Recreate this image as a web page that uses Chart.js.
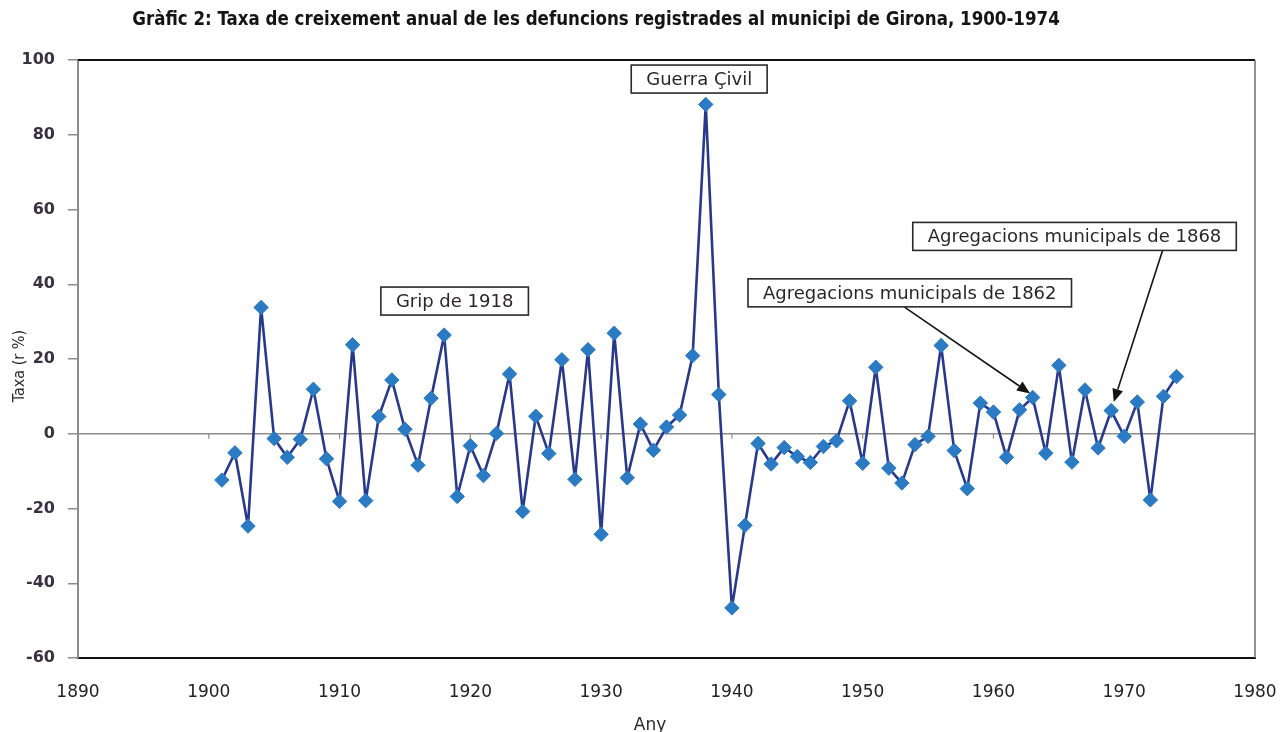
<!DOCTYPE html>
<html><head><meta charset="utf-8">
<script src="https://cdn.jsdelivr.net/npm/chart.js@4.4.1/dist/chart.umd.min.js"></script>
<style>html,body{margin:0;padding:0;background:#fff;overflow:hidden;}</style>
</head><body>
<canvas id="c" width="1282" height="732"></canvas>
<script>
const titleText = "Gràfic 2: Taxa de creixement anual de les defuncions registrades al municipi de Girona, 1900-1974";
const yTitle = "Taxa (r %)";
const xTitle = "Any";
const years = [1901,1902,1903,1904,1905,1906,1907,1908,1909,1910,
  1911,1912,1913,1914,1915,1916,1917,1918,1919,1920,
  1921,1922,1923,1924,1925,1926,1927,1928,1929,1930,
  1931,1932,1933,1934,1935,1936,1937,1938,1939,1940,
  1941,1942,1943,1944,1945,1946,1947,1948,1949,1950,
  1951,1952,1953,1954,1955,1956,1957,1958,1959,1960,
  1961,1962,1963,1964,1965,1966,1967,1968,1969,1970,
  1971,1972,1973,1974];
const rates = [-12.4,-5.1,-24.7,33.8,-1.3,-6.3,-1.5,11.9,-6.7,-18.1,
  23.8,-17.9,4.6,14.4,1.2,-8.4,9.5,26.4,-16.8,-3.2,
  -11.2,0.1,16.0,-20.8,4.7,-5.3,19.8,-12.2,22.5,-26.9,
  26.9,-11.8,2.6,-4.4,1.8,5.0,20.9,88.1,10.5,-46.6,
  -24.5,-2.6,-8.1,-3.7,-6.1,-7.7,-3.4,-1.9,8.8,-7.9,
  17.8,-9.2,-13.2,-2.9,-0.7,23.6,-4.5,-14.7,8.2,5.8,
  -6.3,6.4,9.7,-5.2,18.3,-7.6,11.7,-3.8,6.2,-0.7,
  8.5,-17.7,10.0,15.3];
const xTicks = [1890,1900,1910,1920,1930,1940,1950,1960,1970,1980];
const yTicks = [-60,-40,-20,0,20,40,60,80,100];
const notes = [
  {text:"Grip de 1918", x:1918.8, y:35.5},
  {text:"Guerra Çivil", x:1937.5, y:94.9},
  {text:"Agregacions municipals de 1862", x:1953.6, y:37.7},
  {text:"Agregacions municipals de 1868", x:1966.2, y:52.8}
];
const arrows = [
  {fromX:1953.2, fromY:33.9, toX:1962.8, toY:10.8},
  {fromX:1972.95, fromY:49.2, toX:1969.2, toY:8.5}
];

const deco = {
  id:'deco',
  beforeDraw(chart){
    const c = chart.ctx; c.save(); c.fillStyle='#fff'; c.fillRect(0,0,chart.width,chart.height); c.restore();
  },
  beforeDatasetsDraw(chart){
    const {ctx, chartArea:a, scales:{x,y}} = chart;
    const y0 = y.getPixelForValue(0);
    ctx.save();
    ctx.strokeStyle='#8c8c8c'; ctx.lineWidth=1.2;
    xTicks.forEach(v=>{
      const px = x.getPixelForValue(v);
      if (px > a.left+2 && px < a.right-2){
        ctx.beginPath(); ctx.moveTo(px, y0); ctx.lineTo(px, y0+5); ctx.stroke();
      }
    });
    ctx.strokeStyle='#111'; ctx.lineWidth=2;
    ctx.beginPath(); ctx.moveTo(a.left, a.top); ctx.lineTo(a.right, a.top); ctx.stroke();
    ctx.strokeStyle='#6e6e6e'; ctx.lineWidth=1.5;
    ctx.beginPath(); ctx.moveTo(a.right, a.top); ctx.lineTo(a.right, a.bottom); ctx.stroke();
    ctx.restore();
  },
  afterDatasetsDraw(chart){
    const {ctx, scales:{x,y}} = chart;
    ctx.save();
    arrows.forEach(ar=>{
      const x1=x.getPixelForValue(ar.fromX), y1=y.getPixelForValue(ar.fromY);
      const x2=x.getPixelForValue(ar.toX), y2=y.getPixelForValue(ar.toY);
      const ang=Math.atan2(y2-y1,x2-x1), len=13, hw=5.5;
      const bx=x2-Math.cos(ang)*len, by=y2-Math.sin(ang)*len;
      ctx.strokeStyle='#151515'; ctx.lineWidth=1.6;
      ctx.beginPath(); ctx.moveTo(x1,y1); ctx.lineTo(bx,by); ctx.stroke();
      ctx.fillStyle='#151515';
      ctx.beginPath(); ctx.moveTo(x2,y2);
      ctx.lineTo(bx+Math.sin(ang)*hw, by-Math.cos(ang)*hw);
      ctx.lineTo(bx-Math.sin(ang)*hw, by+Math.cos(ang)*hw);
      ctx.closePath(); ctx.fill();
    });
    ctx.font='18px "DejaVu Sans", sans-serif';
    notes.forEach(n=>{
      const cx=x.getPixelForValue(n.x), cy=y.getPixelForValue(n.y);
      const w=ctx.measureText(n.text).width+30, h=28;
      ctx.fillStyle='#fff'; ctx.fillRect(cx-w/2, cy-h/2, w, h);
      ctx.strokeStyle='#2a2a2a'; ctx.lineWidth=1.6; ctx.strokeRect(cx-w/2, cy-h/2, w, h);
      ctx.fillStyle='#2b2628'; ctx.textAlign='center'; ctx.textBaseline='middle';
      ctx.fillText(n.text, cx, cy+1);
    });
    ctx.restore();
  },
  afterDraw(chart){
    const ctx = chart.ctx;
    ctx.save();
    let fs = 17;
    ctx.font = 'bold '+fs+'px "Liberation Sans Narrow", "DejaVu Sans Condensed", sans-serif';
    const tw = ctx.measureText(titleText).width;
    fs = Math.max(12, Math.min(22, fs*928/tw));
    ctx.font = 'bold '+fs.toFixed(2)+'px "Liberation Sans Narrow", "DejaVu Sans Condensed", sans-serif';
    ctx.fillStyle='#141414'; ctx.textAlign='center'; ctx.textBaseline='alphabetic';
    ctx.fillText(titleText, 596, 25);
    ctx.font='16px "Liberation Sans Narrow", "DejaVu Sans Condensed", sans-serif';
    ctx.fillStyle='#2a2a2a';
    ctx.translate(20, 366); ctx.rotate(-Math.PI/2);
    ctx.textAlign='center'; ctx.textBaseline='middle';
    ctx.fillText(yTitle, 0, 0);
    ctx.setTransform(1,0,0,1,0,0);
    ctx.font='17px "DejaVu Sans", sans-serif';
    ctx.textAlign='center'; ctx.textBaseline='alphabetic';
    ctx.fillText(xTitle, 650, 730);
    ctx.restore();
  }
};

new Chart(document.getElementById('c'), {
  type:'line',
  data:{datasets:[{
    data: years.map((yr,i)=>({x:yr, y:rates[i]})),
    borderColor:'#28388a', borderWidth:2.6, borderJoinStyle:'round',
    pointStyle:'rectRot', pointRadius:7.2, pointHoverRadius:7.2,
    pointBackgroundColor:'#2a7ac4', pointBorderColor:'#2a7ac4', pointBorderWidth:1,
    tension:0, fill:false
  }]},
  options:{
    responsive:false, animation:false, devicePixelRatio:1,
    layout:{padding:{top:60, right:27, left:0, bottom:0}},
    plugins:{legend:{display:false}, tooltip:{enabled:false}, title:{display:false}},
    scales:{
      x:{
        type:'linear', min:xTicks[0], max:xTicks[xTicks.length-1],
        afterBuildTicks:s=>{ s.ticks = xTicks.map(v=>({value:v})); },
        grid:{display:false, drawTicks:false},
        border:{display:true, color:'#111', width:2},
        ticks:{padding:24, color:'#222', font:{family:'"DejaVu Sans"', size:17}, callback:v=>String(v), maxRotation:0, autoSkip:false},
        afterFit:s=>{ s.height = 74; s.paddingLeft = 0; s.paddingRight = 0; }
      },
      y:{
        type:'linear', min:yTicks[0], max:yTicks[yTicks.length-1],
        afterBuildTicks:s=>{ s.ticks = yTicks.map(v=>({value:v})); },
        grid:{color:c=>(c.tick && c.tick.value===0) ? '#8c8c8c' : 'rgba(0,0,0,0)', lineWidth:1.5, tickColor:'#8c8c8c', tickLength:10, drawTicks:true},
        border:{display:true, color:'#8c8c8c', width:2},
        ticks:{padding:13, color:'#3a3040', font:{family:'"DejaVu Sans"', size:16, weight:'bold'}, callback:v=>String(v)},
        afterFit:s=>{ s.width = 78; s.paddingTop = 0; s.paddingBottom = 0; }
      }
    }
  },
  plugins:[deco]
});
</script>
</body></html>
